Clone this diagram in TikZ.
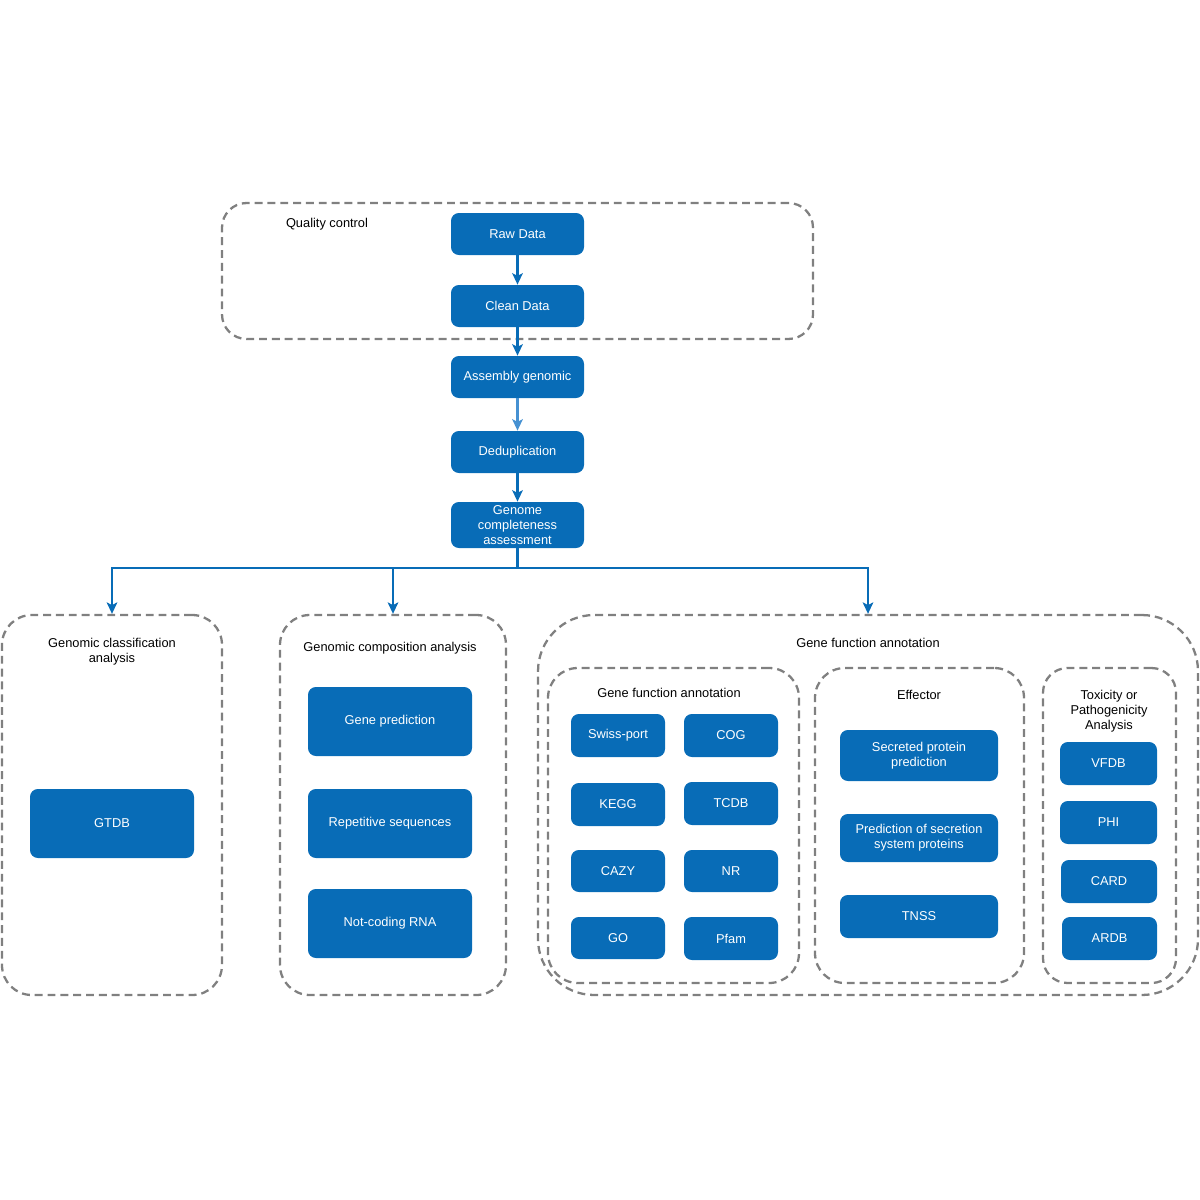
\documentclass[tikz,border=0pt]{standalone}
\usepackage{fontspec}
\setmainfont{Liberation Sans}
\usetikzlibrary{arrows.meta}
\definecolor{bblue}{RGB}{8,108,183}
\definecolor{lblue}{RGB}{70,145,210}
\definecolor{dgray}{RGB}{128,128,128}
\tikzset{
  x=0.02cm, y=-0.02cm,
  box/.style={draw=none, fill=bblue, rounded corners=4.5pt, text=white, align=center, inner sep=0pt,
     font=\fontsize{7.3}{8.6}\selectfont},
  grp/.style={draw=dgray, line width=1.3pt, dash pattern=on 4.5pt off 2.8pt, fill=none, inner sep=0pt},
  ttl/.style={align=center, inner sep=0pt, font=\fontsize{7.3}{8.6}\selectfont},
  arr/.style={draw=bblue, line width=1.4pt, -{Stealth[length=6.5pt,width=6pt,inset=1.5pt]}},
}
% name, x1, y1, x2, y2, text
\newcommand\bx[6]{\node[box, minimum width={(#4-#2)*0.02cm}, minimum height={(#5-#3)*0.02cm}] (#1) at ({(#2+#4)/2},{(#3+#5)/2}) {#6};}
% name, x1, y1, x2, y2, radius
\newcommand\gp[6]{\node[grp, rounded corners=#6, minimum width={(#4-#2)*0.02cm}, minimum height={(#5-#3)*0.02cm}] (#1) at ({(#2+#4)/2},{(#3+#5)/2}) {};}
\begin{document}
\begin{tikzpicture}
\useasboundingbox (0,0) rectangle (1200,1200);
% groups
\gp{qc}{222}{203}{813}{339}{14pt}
\gp{g1}{2}{615}{222}{995}{17pt}
\gp{g2}{280}{615}{506}{995}{17pt}
\gp{g3}{538}{615}{1198}{995}{32pt}
\gp{g31}{548}{668}{799}{983}{17pt}
\gp{g32}{815}{668}{1024}{983}{17pt}
\gp{g33}{1043}{668}{1176}{983}{14pt}
% titles
\node[ttl] (tqc) at (327,224) {Quality control};
\node[ttl] (t1) at (112,652) {Genomic classification\\analysis};
\node[ttl] (t2) at (390,648) {Genomic composition analysis};
\node[ttl] (t3) at (868,643) {Gene function annotation};
\node[ttl] (t31) at (669,693) {Gene function annotation};
\node[ttl] (t32) at (919,695) {Effector};
\node[ttl] (t33) at (1109,711) {Toxicity or\\Pathogenicity\\Analysis};
% main chain
\bx{raw}{451}{213}{584}{255}{Raw Data}
\bx{clean}{451}{285}{584}{327}{Clean Data}
\bx{asm}{451}{356}{584}{398}{Assembly genomic}
\bx{dedup}{451}{431}{584}{473}{Deduplication}
\bx{gca}{451}{502}{584}{548}{Genome\\completeness\\assessment}
% group 1
\bx{gtdb}{30}{789}{194}{858}{GTDB}
% group 2
\bx{gp}{308}{687}{472}{756}{Gene prediction}
\bx{rep}{308}{789}{472}{858}{Repetitive sequences}
\bx{ncr}{308}{889}{472}{958}{Not-coding RNA}
% group 3.1
\bx{swiss}{571}{714}{665}{757}{Swiss-port}
\bx{cog}{684}{714}{778}{757}{COG}
\bx{kegg}{571}{783}{665}{826}{KEGG}
\bx{tcdb}{684}{782}{778}{825}{TCDB}
\bx{cazy}{571}{850}{665}{892}{CAZY}
\bx{nr}{684}{850}{778}{892}{NR}
\bx{go}{571}{917}{665}{959}{GO}
\bx{pfam}{684}{917}{778}{960}{Pfam}
% group 3.2
\bx{sec}{840}{730}{998}{781}{Secreted protein\\prediction}
\bx{pss}{840}{814}{998}{862}{Prediction of secretion\\system proteins}
\bx{tnss}{840}{895}{998}{938}{TNSS}
% group 3.3
\bx{vfdb}{1060}{742}{1157}{785}{VFDB}
\bx{phi}{1060}{801}{1157}{844}{PHI}
\bx{card}{1061}{860}{1157}{903}{CARD}
\bx{ardb}{1062}{917}{1157}{960}{ARDB}
% connectors
\draw[arr] (raw) -- (clean);
\draw[arr] (clean) -- (asm);
\draw[arr, draw=lblue] (asm) -- (dedup);
\draw[arr] (dedup) -- (gca);
\coordinate (j) at (517.5,568);
\draw[draw=bblue, line width=1.4pt] (gca.south) -- (j);
\draw[arr] (j) -| (g1.north);
\draw[arr] (j) -| (g2.north);
\draw[arr] (j) -| (g3.north);
\end{tikzpicture}
\end{document}
